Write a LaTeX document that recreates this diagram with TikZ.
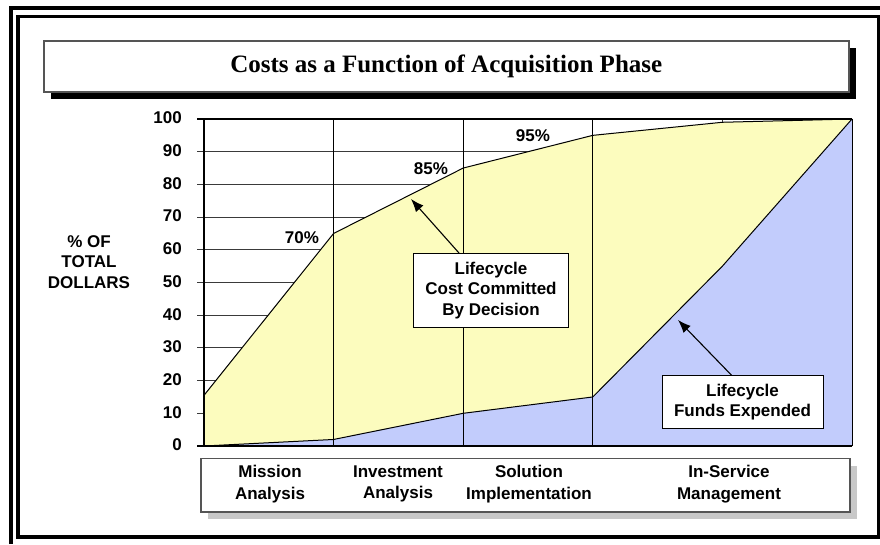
\documentclass[tikz,border=0pt]{standalone}
\usepackage{fontspec}
\setmainfont{Liberation Sans}
\newfontfamily\titlefont{Liberation Serif}
\usetikzlibrary{arrows.meta,calc}
\definecolor{commit}{HTML}{FCFCBE}
\definecolor{expend}{HTML}{C2CCFC}
\definecolor{boxgray}{HTML}{555555}
\definecolor{shadowgray}{HTML}{C8C8C8}
\definecolor{gridgray}{HTML}{3A3A3A}
\begin{document}
\begin{tikzpicture}[x=1pt,y=-1pt,
  lbl/.style={font=\fontsize{17}{20.5}\selectfont\bfseries, inner sep=0pt, align=center},
  phaselbl/.style={font=\fontsize{17}{21.5}\selectfont\bfseries, inner sep=0pt, align=center},
  ylbl/.style={lbl, anchor=east},
  callout/.style={lbl, draw=black, fill=white, line width=1pt},
  pointer/.style={line width=1.1pt, -{Latex[length=13pt,width=10pt]}},
  gridln/.style={gridgray, line width=1pt},
  divider/.style={black, line width=1.2pt},
  curve/.style={black, line width=1pt, line join=round}
]
\useasboundingbox (0,0) rectangle (880,544);
\fill[white] (0,0) rectangle (880,544);

% frames
\draw[line width=4pt] (10.5,544) -- (10.5,8) -- (880,8);
\draw[line width=3.5pt] (18,16.5) rectangle (878.5,537);

% title
\fill[black] (51,48) rectangle (856,99);
\node[draw=boxgray, line width=1.5pt, fill=white, minimum width=805pt, minimum height=51pt,
  inner sep=0pt, anchor=north west,
  font=\titlefont\bfseries\fontsize{25}{30}\selectfont] (title) at (43,40)
  {Costs as a Function of Acquisition Phase};

% plot
\begin{scope}[shift={(204,446)}, x=129.6pt, y=3.27pt]
  \foreach \v in {10,20,...,90} {\draw[gridln] (-0.054,\v) -- (5,\v);}
  \draw[gridln] (4,0) -- (4,100);
  \fill[commit] (0,0) -- (0,15.5) -- (1,65) -- (2,85) -- (3,95) -- (4,99) -- (5,100) -- (5,0) -- cycle;
  \fill[expend] (0,0) -- (1,2) -- (2,10) -- (3,15) -- (4,55) -- (5,100) -- (5,0) -- cycle;
  \draw[curve] (0,15.5) -- (1,65) -- (2,85) -- (3,95) -- (4,99) -- (5,100);
  \draw[curve] (0,0) -- (1,2) -- (2,10) -- (3,15) -- (4,55) -- (5,100);
  \foreach \i in {1,2,3} {\draw[divider] (\i,0) -- (\i,100);}
  \draw[black, line width=1.2pt] (-0.054,100) -- (5,100);
  \draw[black, line width=1pt] (5,0) -- (5,100);
  \draw[black, line width=1.5pt] (0,0) -- (0,100);
  \draw[black, line width=2pt] (-0.054,0) -- (5,0);
  \foreach \v in {0,10,...,100} {\node[ylbl] (y\v) at (-0.17,\v+0.3) {\v};}
\end{scope}

% axis title
\node[lbl] (ytitle) at (89,262) {\% OF\\TOTAL\\DOLLARS};

% percentage labels
\node[lbl] (p70) at (302,238) {70\%};
\node[lbl] (p85) at (431,169) {85\%};
\node[lbl] (p95) at (533,136) {95\%};

% callouts
\node[callout, minimum width=155pt, minimum height=74pt] (c1) at (491,290.5)
  {Lifecycle\\Cost Committed\\By Decision};
\coordinate (t1) at (411,199);
\draw[pointer] ($(c1.north)+(-32,0)$) -- (t1);

\node[callout, minimum width=161pt, minimum height=52.6pt] (c2) at (742.5,402)
  {Lifecycle\\Funds Expended};
\coordinate (t2) at (678,320);
\draw[pointer] ($(c2.north)+(-11,0)$) -- (t2);

% phase box
\fill[shadowgray] (208,465.7) rectangle (857.3,519);
\node[draw=boxgray, line width=1.5pt, fill=white, anchor=north west, minimum width=649.3pt,
  minimum height=53.3pt, inner sep=0pt] (phases) at (200,457.7) {};
\node[phaselbl] (ph1) at (270,484) {Mission\\Analysis};
\node[phaselbl] (ph2) at (398,484) {Investment\\Analysis};
\node[phaselbl] (ph3) at (529,484) {Solution\\Implementation};
\node[phaselbl] (ph4) at (729,484) {In-Service\\Management};
\end{tikzpicture}
\end{document}
